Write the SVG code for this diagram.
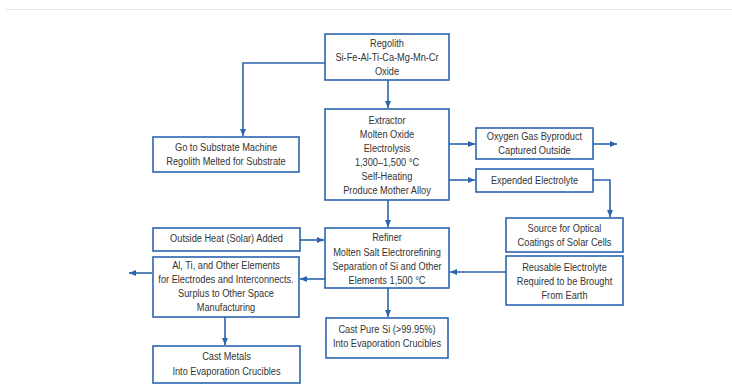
<svg xmlns="http://www.w3.org/2000/svg" width="732" height="385" viewBox="0 0 732 385">
<style>
.box{fill:#ffffff;stroke:#2b64ae;stroke-width:1.6}
.t{font-family:"Liberation Sans",Arial,sans-serif;font-size:11px;fill:#333333;text-anchor:middle}
.c{fill:none;stroke:#2b64ae;stroke-width:1.6}
</style>
<defs>
<marker id="ah" markerUnits="userSpaceOnUse" markerWidth="8" markerHeight="6" refX="7" refY="3" orient="auto">
<path d="M0,0 L7,3 L0,6 z" fill="#2b64ae"/>
</marker>
</defs>
<rect width="732" height="385" fill="#ffffff"/>
<line x1="6" y1="9.5" x2="732" y2="9.5" stroke="#e2e2e2" stroke-width="1"/>
<g id="connectors">
<path class="c" d="M388,80 V108" marker-end="url(#ah)"/>
<path class="c" d="M325,63 H243 V136" marker-end="url(#ah)"/>
<path class="c" d="M449,144 H475" marker-end="url(#ah)"/>
<path class="c" d="M593,144 H617" marker-end="url(#ah)"/>
<path class="c" d="M449,180 H475" marker-end="url(#ah)"/>
<path class="c" d="M593,180 H610 V217" marker-end="url(#ah)"/>
<path class="c" d="M388,200 V227" marker-end="url(#ah)"/>
<path class="c" d="M300,240 H324" marker-end="url(#ah)"/>
<path class="c" d="M506,272 H450" marker-end="url(#ah)"/>
<path class="c" d="M325,279 H300" marker-end="url(#ah)"/>
<path class="c" d="M152,273 H129" marker-end="url(#ah)"/>
<path class="c" d="M225,317 V345" marker-end="url(#ah)"/>
<path class="c" d="M388,288 V317" marker-end="url(#ah)"/>
</g>
<g id="regolith">
<rect class="box" x="325" y="34" width="124" height="46"/>
<g transform="translate(387 0) scale(0.84 1)"><text class="t"><tspan x="0" y="47">Regolith</tspan><tspan x="0" y="61">Si-Fe-Al-Ti-Ca-Mg-Mn-Cr</tspan><tspan x="0" y="75">Oxide</tspan></text></g>
</g>
<g id="substrate">
<rect class="box" x="153" y="137" width="146" height="35"/>
<g transform="translate(226 0) scale(0.84 1)"><text class="t"><tspan x="0" y="151.5">Go to Substrate Machine</tspan><tspan x="0" y="165.5">Regolith Melted for Substrate</tspan></text></g>
</g>
<g id="extractor">
<rect class="box" x="325" y="109" width="124" height="91"/>
<g transform="translate(387 0) scale(0.84 1)"><text class="t"><tspan x="0" y="124">Extractor</tspan><tspan x="0" y="138">Molten Oxide</tspan><tspan x="0" y="152">Electrolysis</tspan><tspan x="0" y="166">1,300–1,500 °C</tspan><tspan x="0" y="180">Self-Heating</tspan><tspan x="0" y="194">Produce Mother Alloy</tspan></text></g>
</g>
<g id="oxygen">
<rect class="box" x="476" y="128" width="117" height="31"/>
<g transform="translate(534.5 0) scale(0.84 1)"><text class="t"><tspan x="0" y="140">Oxygen Gas Byproduct</tspan><tspan x="0" y="154">Captured Outside</tspan></text></g>
</g>
<g id="expended">
<rect class="box" x="476" y="169" width="117" height="23"/>
<g transform="translate(534.5 0) scale(0.84 1)"><text class="t"><tspan x="0" y="184.5">Expended Electrolyte</tspan></text></g>
</g>
<g id="source">
<rect class="box" x="506" y="218" width="117" height="34"/>
<g transform="translate(564.5 0) scale(0.84 1)"><text class="t"><tspan x="0" y="232">Source for Optical</tspan><tspan x="0" y="246">Coatings of Solar Cells</tspan></text></g>
</g>
<g id="reusable">
<rect class="box" x="506" y="256" width="117" height="49"/>
<g transform="translate(564.5 0) scale(0.84 1)"><text class="t"><tspan x="0" y="271">Reusable Electrolyte</tspan><tspan x="0" y="285">Required to be Brought</tspan><tspan x="0" y="299">From Earth</tspan></text></g>
</g>
<g id="heat">
<rect class="box" x="153" y="228" width="147" height="23"/>
<g transform="translate(226.5 0) scale(0.84 1)"><text class="t"><tspan x="0" y="242">Outside Heat (Solar) Added</tspan></text></g>
</g>
<g id="refiner">
<rect class="box" x="325" y="228" width="124" height="60"/>
<g transform="translate(387 0) scale(0.84 1)"><text class="t"><tspan x="0" y="241.5">Refiner</tspan><tspan x="0" y="256">Molten Salt Electrorefining</tspan><tspan x="0" y="270">Separation of Si and Other</tspan><tspan x="0" y="284">Elements 1,500 °C</tspan></text></g>
</g>
<g id="elements">
<rect class="box" x="153" y="257" width="146" height="60"/>
<g transform="translate(226 0) scale(0.84 1)"><text class="t"><tspan x="0" y="269">Al, Ti, and Other Elements</tspan><tspan x="0" y="283">for Electrodes and Interconnects.</tspan><tspan x="0" y="297">Surplus to Other Space</tspan><tspan x="0" y="311">Manufacturing</tspan></text></g>
</g>
<g id="castmetals">
<rect class="box" x="153" y="346" width="147" height="37"/>
<g transform="translate(226.5 0) scale(0.84 1)"><text class="t"><tspan x="0" y="360.5">Cast Metals</tspan><tspan x="0" y="375">Into Evaporation Crucibles</tspan></text></g>
</g>
<g id="castsi">
<rect class="box" x="326" y="318" width="122" height="40"/>
<g transform="translate(387 0) scale(0.84 1)"><text class="t"><tspan x="0" y="333">Cast Pure Si (&gt;99.95%)</tspan><tspan x="0" y="347">Into Evaporation Crucibles</tspan></text></g>
</g>
</svg>
